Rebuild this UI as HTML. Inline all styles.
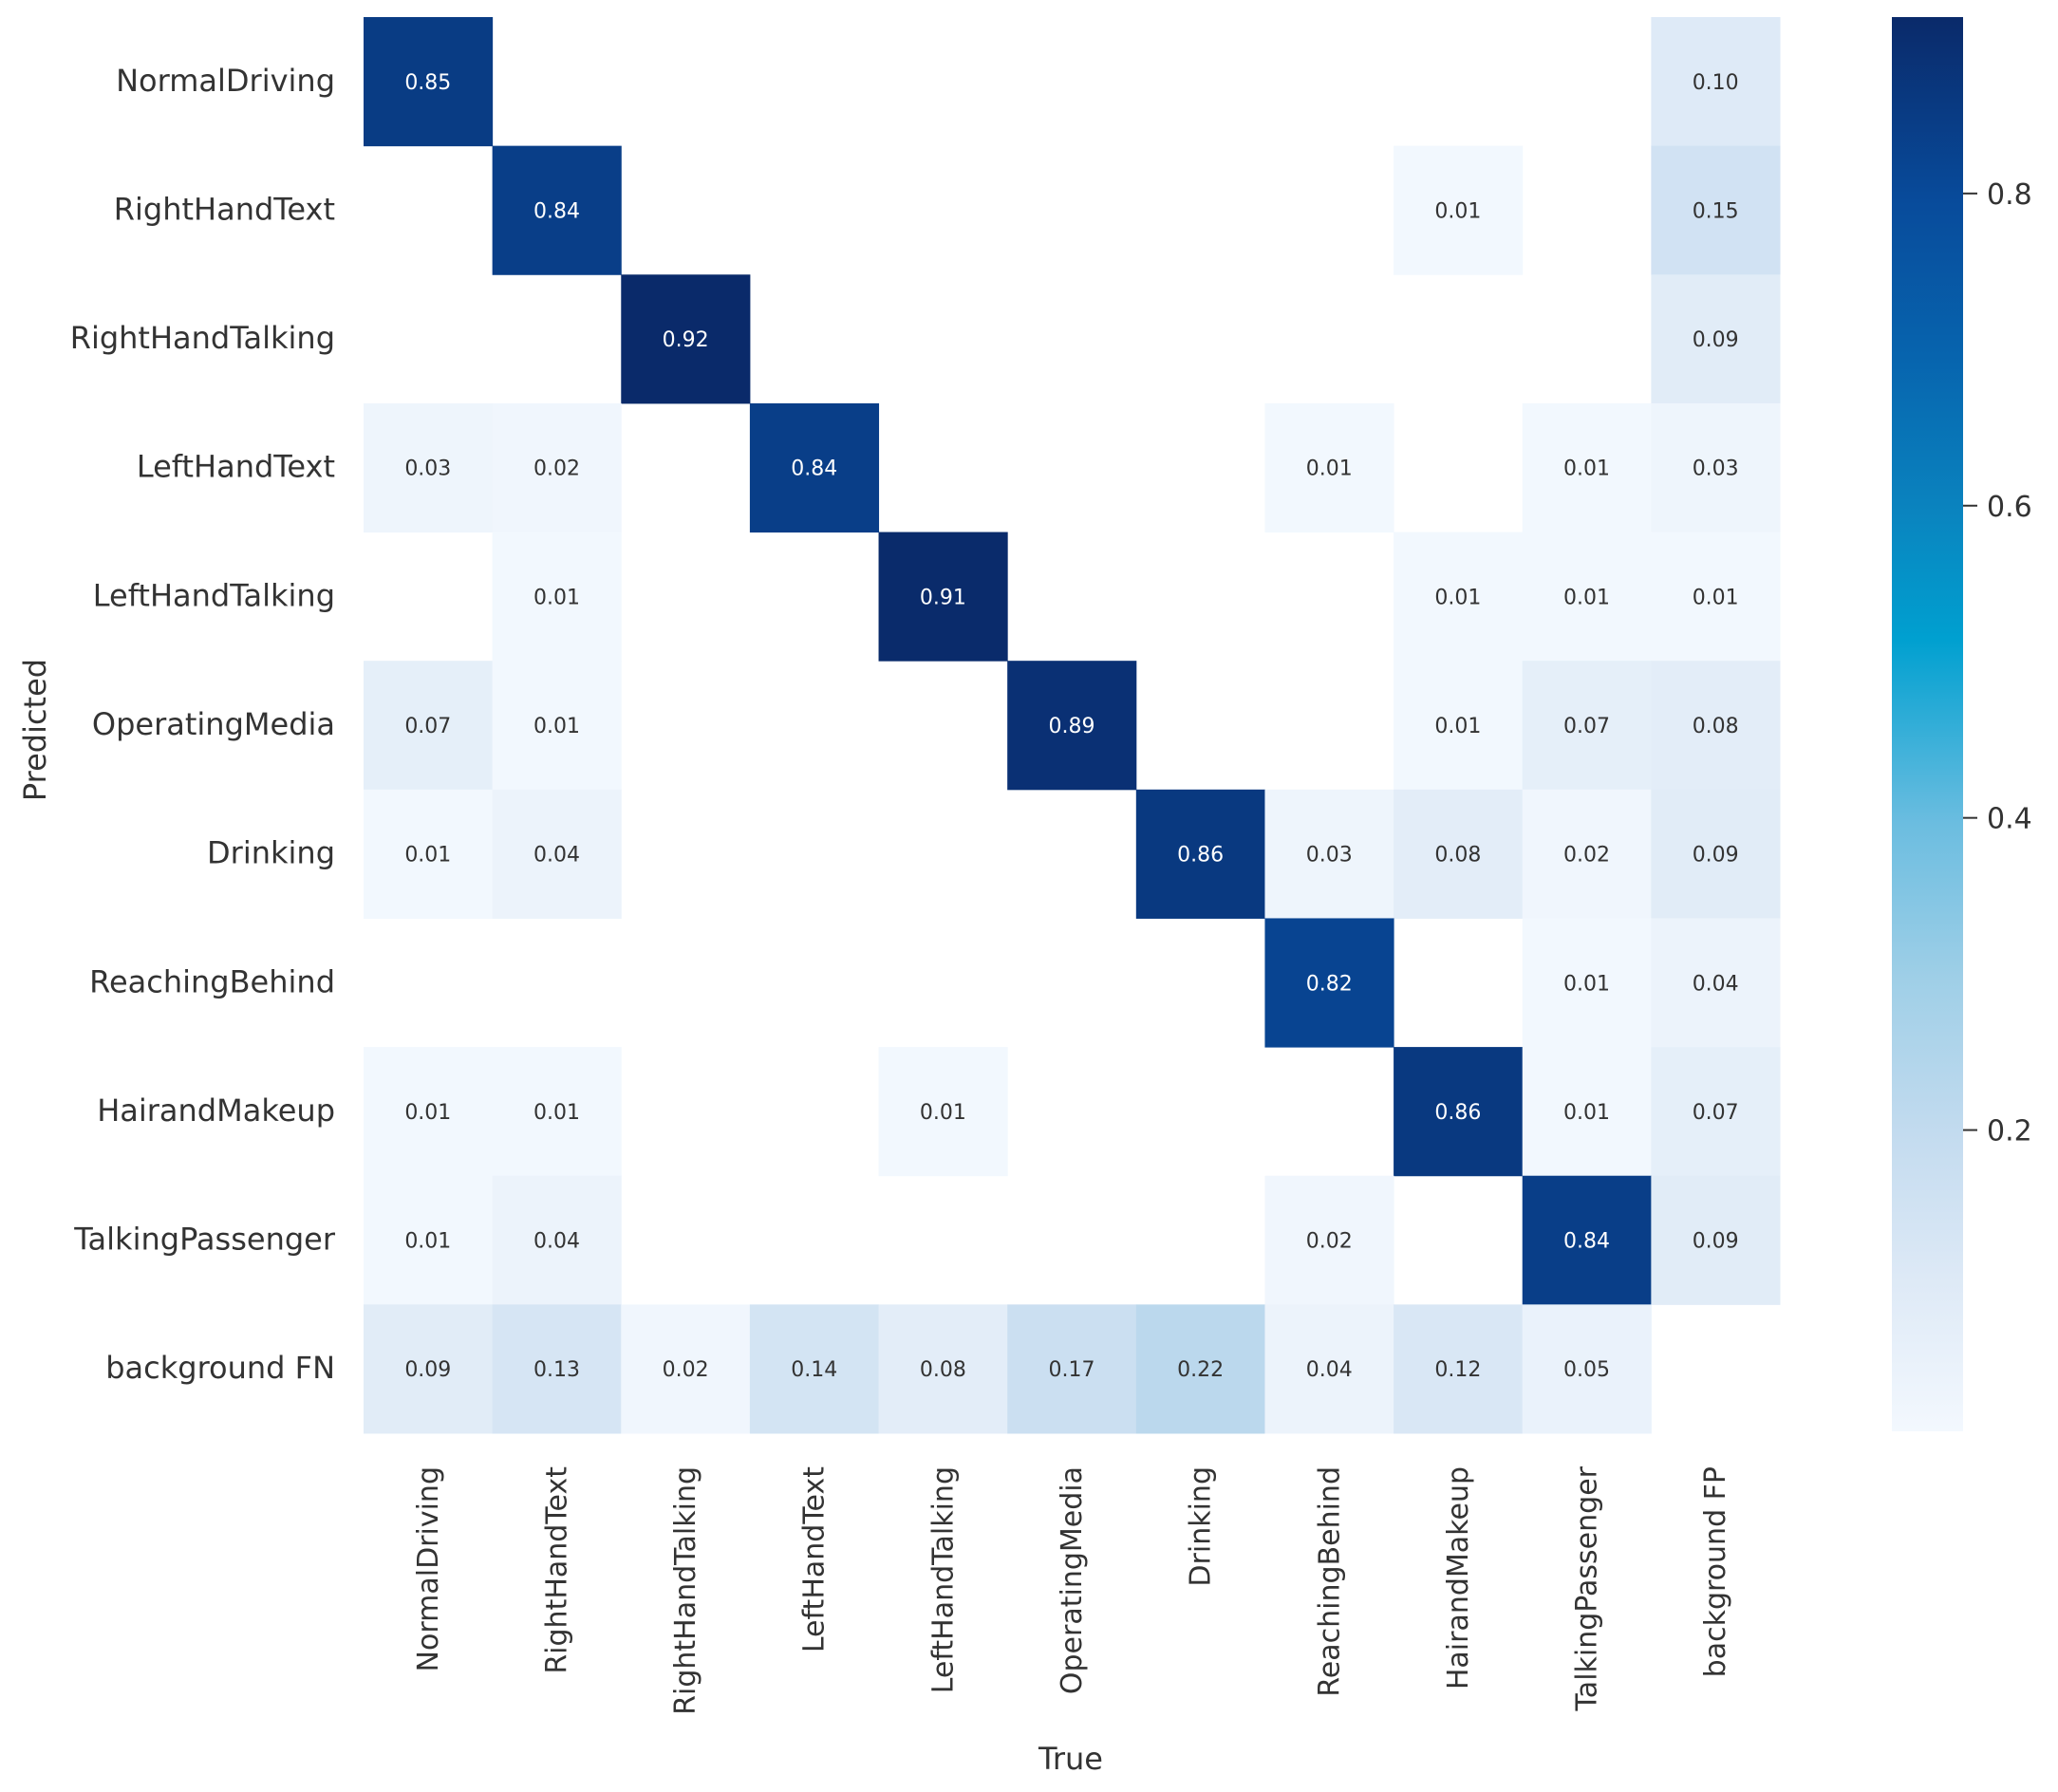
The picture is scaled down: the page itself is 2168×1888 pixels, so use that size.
<!DOCTYPE html>
<html><head><meta charset="utf-8"><style>
html,body{margin:0;padding:0;background:#fff;}
svg{display:block;font-family:"DejaVu Sans","Liberation Sans",sans-serif;}
</style></head><body>
<svg id="chart" width="2168" height="1888" viewBox="0 0 2168 1888">
<defs>
<linearGradient id="cbgrad" x1="0" y1="1" x2="0" y2="0">
<stop offset="0" stop-color="#f3f8fe"/>
<stop offset="0.11" stop-color="#dde9f6"/>
<stop offset="0.21" stop-color="#c3dbef"/>
<stop offset="0.32" stop-color="#9fcfe7"/>
<stop offset="0.43" stop-color="#6bbde0"/>
<stop offset="0.56" stop-color="#00a0d0"/>
<stop offset="0.65" stop-color="#0a84bf"/>
<stop offset="0.76" stop-color="#0764ae"/>
<stop offset="0.87" stop-color="#084b9b"/>
<stop offset="1" stop-color="#0a2a6a"/>
</linearGradient>
</defs>
<g id="cells"></g>
<g id="labels"></g>
<rect x="1993" y="18" width="75" height="1490" fill="url(#cbgrad)"/>
<g id="cbticks"></g>
<text x="1128" y="1864" font-size="32" fill="#333" text-anchor="middle">True</text>
<text x="0" y="0" font-size="32" fill="#333" text-anchor="middle" transform="translate(48,769) rotate(-90)">Predicted</text>
</svg>
<script>
const predLabels=["NormalDriving","RightHandText","RightHandTalking","LeftHandText","LeftHandTalking","OperatingMedia","Drinking","ReachingBehind","HairandMakeup","TalkingPassenger","background FN"];
const trueLabels=["NormalDriving","RightHandText","RightHandTalking","LeftHandText","LeftHandTalking","OperatingMedia","Drinking","ReachingBehind","HairandMakeup","TalkingPassenger","background FP"];
const row0=[0.85,0,0,0,0,0,0,0,0,0,0.10];
const row1=[0,0.84,0,0,0,0,0,0,0.01,0,0.15];
const row2=[0,0,0.92,0,0,0,0,0,0,0,0.09];
const row3=[0.03,0.02,0,0.84,0,0,0,0.01,0,0.01,0.03];
const row4=[0,0.01,0,0,0.91,0,0,0,0.01,0.01,0.01];
const row5=[0.07,0.01,0,0,0,0.89,0,0,0.01,0.07,0.08];
const row6=[0.01,0.04,0,0,0,0,0.86,0.03,0.08,0.02,0.09];
const row7=[0,0,0,0,0,0,0,0.82,0,0.01,0.04];
const row8=[0.01,0.01,0,0,0.01,0,0,0,0.86,0.01,0.07];
const row9=[0.01,0.04,0,0,0,0,0,0.02,0,0.84,0.09];
const row10=[0.09,0.13,0.02,0.14,0.08,0.17,0.22,0.04,0.12,0.05,0];
const matrix=[row0,row1,row2,row3,row4,row5,row6,row7,row8,row9,row10];
const cbTicks=[0.2,0.4,0.6,0.8];
const vmin=0.007,vmax=0.913;
const gx=383,gy=18,gw=1492,gh=1492;
const n=predLabels.length;
const cw=gw/n,ch=gh/n;
const xPos=i=>gx+i*cw, yPos=j=>gy+j*ch;
const cbY=v=>1508-(v-vmin)/(vmax-vmin)*1490;
const stops=[[0,[243,248,254]],[0.11,[221,233,246]],[0.21,[195,219,239]],[0.32,[159,207,231]],[0.43,[107,189,224]],[0.56,[0,160,208]],[0.65,[10,132,191]],[0.76,[7,100,174]],[0.87,[8,75,155]],[1,[10,42,106]]];
function color(v){let t=Math.max(0,Math.min(1,(v-vmin)/(vmax-vmin)));for(let k=1;k<stops.length;k++){if(t<=stops[k][0]){const a=stops[k-1],b=stops[k];const f=(t-a[0])/(b[0]-a[0]);const c=a[1].map((x,i)=>Math.round(x+(b[1][i]-x)*f));return `rgb(${c.join(',')})`;}}return 'rgb(10,42,106)';}
const NS="http://www.w3.org/2000/svg";
const cells=document.getElementById('cells');
matrix.forEach((row,j)=>row.forEach((v,i)=>{
 if(v<=0)return;
 const r=document.createElementNS(NS,'rect');
 r.setAttribute('x',xPos(i));r.setAttribute('y',yPos(j));r.setAttribute('width',cw+0.5);r.setAttribute('height',ch+0.5);
 r.setAttribute('fill',color(v));
 
 
 cells.appendChild(r);
 const t=document.createElementNS(NS,'text');
 t.setAttribute('x',xPos(i)+cw/2);t.setAttribute('y',yPos(j)+ch/2+8);
 t.setAttribute('text-anchor','middle');t.setAttribute('font-size','22');
 t.setAttribute('fill',v>0.5?'#fff':'#333');
 t.textContent=v.toFixed(2);
 
 
 cells.appendChild(t);
}));
const labels=document.getElementById('labels');
predLabels.forEach((l,j)=>{
 const t=document.createElementNS(NS,'text');
 t.setAttribute('x',353);t.setAttribute('y',yPos(j)+ch/2+10);
 t.setAttribute('text-anchor','end');t.setAttribute('font-size','32');t.setAttribute('fill','#333');
 t.textContent=l;
 
 
 labels.appendChild(t);
});
trueLabels.forEach((l,i)=>{
 const t=document.createElementNS(NS,'text');
 const x=xPos(i)+cw/2+10,y=1545;
 t.setAttribute('x',0);t.setAttribute('y',0);
 t.setAttribute('transform',`translate(${x},${y}) rotate(-90)`);
 t.setAttribute('text-anchor','end');t.setAttribute('font-size','30');t.setAttribute('fill','#333');
 t.textContent=l;
 
 
 labels.appendChild(t);
});
const cbt=document.getElementById('cbticks');
cbTicks.forEach(v=>{
 const y=cbY(v);
 const ln=document.createElementNS(NS,'line');
 ln.setAttribute('x1',2068);ln.setAttribute('x2',2083);ln.setAttribute('y1',y);ln.setAttribute('y2',y);
 ln.setAttribute('stroke','#333');ln.setAttribute('stroke-width','2');
 
 
 cbt.appendChild(ln);
 const t=document.createElementNS(NS,'text');
 t.setAttribute('x',2093);t.setAttribute('y',y+11);t.setAttribute('font-size','30');t.setAttribute('fill','#333');
 t.textContent=v.toFixed(1);
 
 
 cbt.appendChild(t);
});
</script>
</body></html>
